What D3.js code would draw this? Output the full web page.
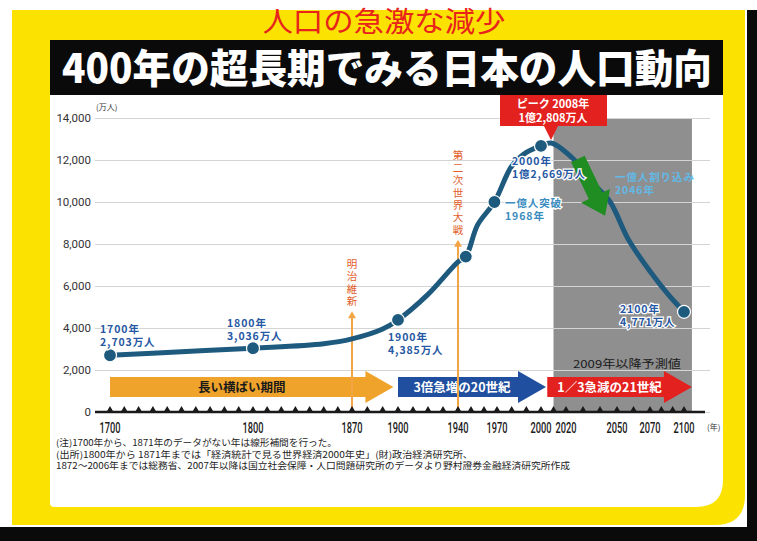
<!DOCTYPE html>
<html>
<head>
<meta charset="utf-8">
<script src="https://cdn.jsdelivr.net/npm/d3@7"></script>
<style>
  body { margin: 0; background: #fff; }
  svg { display: block; }
</style>
</head>
<body>
<div id="chart"></div>
<script>
// population of Japan (10,000 persons)
const years = [1700, 1750, 1800, 1850, 1870, 1890, 1900, 1920, 1940, 1946, 1955, 1968, 1980, 1990, 2000, 2008, 2025, 2037, 2046, 2057, 2070, 2086, 2100];
const population = [2703, 2870, 3036, 3250, 3480, 3950, 4385, 5600, 7150, 7400, 8900, 10000, 11700, 12360, 12669, 12808, 12000, 10800, 10000, 8200, 6700, 5600, 4771];
const markerYears = [1700, 1800, 1900, 1946, 1968, 2000, 2100];

const yTicks = [0, 2000, 4000, 6000, 8000, 10000, 12000, 14000];
const xTicks = [1700, 1800, 1870, 1900, 1940, 1970, 2000, 2020, 2050, 2070, 2100];

const periods = [
  {label: '長い横ばい期間', from: 1700, to: 1897, fill: '#f0a32a', text: '#1a1a1a'},
  {label: '3倍急増の20世紀', from: 1900, to: 2004, fill: '#1f4f9e', text: '#fff'},
  {label: '1／3急減の21世紀', from: 2005, to: 2107, fill: '#e3211f', text: '#fff'}
];

const events = [
  {label: '明治維新', year: 1870, top: 4800},
  {label: '第二次世界大戦', year: 1940, top: 8200}
];

const notes = [
  '(注)1700年から、1871年のデータがない年は線形補間を行った。',
  '(出所)1800年から 1871年までは「経済統計で見る世界経済2000年史」(財)政治経済研究所、',
  '1872～2006年までは総務省、2007年以降は国立社会保障・人口問題研究所のデータより野村證券金融経済研究所作成'
];

const W = 757, H = 541;
const numFont = 'Roboto, "Liberation Sans", sans-serif';
const svg = d3.select('#chart').append('svg')
  .attr('width', W)
  .attr('height', H)
  .attr('font-family', '"Noto Sans CJK JP", "Noto Sans", sans-serif');

// frame
svg.append('rect').attr('x', 747).attr('y', 10).attr('width', 10).attr('height', H - 10).attr('fill', '#0a0a0a');
svg.append('rect').attr('x', 0).attr('y', 527).attr('width', W).attr('height', 14).attr('fill', '#0a0a0a');
svg.append('path')
  .attr('d', 'M12,10 H745 V495 Q745,525 715,525 H12 Z')
  .attr('fill', '#fbe200');
svg.append('path')
  .attr('d', 'M50,40 H723 V480 Q723,507 696,507 H54 Q50,507 50,503 Z')
  .attr('fill', '#fff');

// titles
svg.append('text')
  .attr('x', 384).attr('y', 32)
  .attr('text-anchor', 'middle')
  .attr('font-size', 28)
  .attr('fill', '#e8231c')
  .attr('textLength', 243).attr('lengthAdjust', 'spacingAndGlyphs')
  .text('人口の急激な減少');
svg.append('rect').attr('x', 50).attr('y', 40).attr('width', 673).attr('height', 55).attr('fill', '#0a0a0a');
svg.append('text')
  .attr('x', 62).attr('y', 83)
  .attr('font-size', 40).attr('font-weight', 900)
  .attr('fill', '#fff')
  .attr('textLength', 650).attr('lengthAdjust', 'spacingAndGlyphs')
  .text('400年の超長期でみる日本の人口動向');

const x = d3.scaleLinear()
  .domain(xTicks)
  .range([110, 253, 352, 398, 458, 497, 541, 566, 617, 650, 684]);
const y = d3.scaleLinear().domain([0, 14000]).range([412, 118]);

// forecast area
svg.append('rect')
  .attr('x', x(2010)).attr('y', y(14000))
  .attr('width', x(2107) - x(2010)).attr('height', y(0) - y(14000))
  .attr('fill', '#8f8f8f');

// grid + y labels
const yAxis = svg.append('g')
  .attr('transform', 'translate(95,0)')
  .call(d3.axisLeft(y).tickValues(yTicks).tickFormat(d3.format(',')).tickSize(-615).tickPadding(4));
yAxis.attr('font-family', numFont).attr('font-size', 11.5);
yAxis.select('.domain').remove();
yAxis.selectAll('.tick line').attr('stroke', '#d4d4d4');
yAxis.selectAll('.tick text').attr('fill', '#333');
svg.append('text')
  .attr('x', 96).attr('y', 110)
  .attr('font-size', 8).attr('fill', '#333')
  .text('(万人)');

// period arrows
function hArrow(x0, x1, yc) {
  const b = 10, h = 16, hl = 28;
  return `M${x0},${yc - b} H${x1 - hl} V${yc - h} L${x1},${yc} L${x1 - hl},${yc + h} V${yc + b} H${x0} Z`;
}
const pg = svg.append('g');
pg.selectAll('path').data(periods).join('path')
  .attr('d', d => hArrow(x(d.from), x(d.to), 387))
  .attr('fill', d => d.fill);
pg.selectAll('text').data(periods).join('text')
  .attr('x', d => (x(d.from) + x(d.to) - 20) / 2)
  .attr('y', 392)
  .attr('text-anchor', 'middle')
  .attr('font-size', 12.5).attr('font-weight', 700)
  .attr('fill', d => d.text)
  .text(d => d.label);

// event arrows
const eg = svg.append('g');
events.forEach(ev => {
  const ex = x(ev.year), top = y(ev.top);
  eg.append('line')
    .attr('x1', ex).attr('x2', ex)
    .attr('y1', y(0)).attr('y2', top + 4)
    .attr('stroke', '#f3a445').attr('stroke-width', 2);
  eg.append('path')
    .attr('d', `M${ex - 4},${top + 7} L${ex},${top} L${ex + 4},${top + 7} Z`)
    .attr('fill', '#f3a445');
  Array.from(ev.label).forEach((c, i, arr) => {
    eg.append('text')
      .attr('x', ex).attr('y', top - 6 - (arr.length - 1 - i) * 12.4)
      .attr('text-anchor', 'middle')
      .attr('font-size', 10.5).attr('fill', '#e2602c')
      .text(c);
  });
});

// x axis
svg.append('line')
  .attr('x1', 95).attr('x2', 705)
  .attr('y1', y(0)).attr('y2', y(0))
  .attr('stroke', '#1a1a1a').attr('stroke-width', 2.5);
svg.append('g').selectAll('path').data(d3.range(1700, 2101, 10)).join('path')
  .attr('d', d => `M${x(d) - 3.5},${y(0)} L${x(d)},${y(0) - 6} L${x(d) + 3.5},${y(0)} Z`)
  .attr('fill', '#1a1a1a');
svg.append('g')
  .attr('font-family', numFont)
  .selectAll('text').data(xTicks).join('text')
  .attr('font-weight', 500)
  .attr('x', d => x(d) - 10.5).attr('y', 433)
  .attr('font-size', 14.5)
  .attr('fill', '#1a1a1a')
  .attr('textLength', 21).attr('lengthAdjust', 'spacingAndGlyphs')
  .text(d => d);
svg.append('text')
  .attr('x', 707).attr('y', 430)
  .attr('font-size', 8).attr('fill', '#333')
  .text('(年)');

// population line
const series = years.map((yr, i) => ({year: yr, value: population[i]}));
const line = d3.line()
  .x(d => x(d.year))
  .y(d => y(d.value))
  .curve(d3.curveCatmullRom);
svg.append('path')
  .datum(series)
  .attr('d', line)
  .attr('fill', 'none')
  .attr('stroke', '#1d5a7e')
  .attr('stroke-width', 5)
  .attr('stroke-linejoin', 'round');
svg.append('g').selectAll('circle')
  .data(series.filter(d => markerYears.includes(d.year)))
  .join('circle')
  .attr('cx', d => x(d.year)).attr('cy', d => y(d.value))
  .attr('r', 6.5)
  .attr('fill', '#1d5a7e')
  .attr('stroke', '#fff').attr('stroke-width', 1.2);

// green arrow
(function() {
  const p0 = [x(2027), y(12050)], p1 = [x(2043), y(9350)];
  const dx = p1[0] - p0[0], dy = p1[1] - p0[1], len = Math.hypot(dx, dy);
  const ux = dx / len, uy = dy / len, nx = -uy, ny = ux;
  const sw = 7.5, hw = 16, hl = 22;
  const bx = p1[0] - ux * hl, by = p1[1] - uy * hl;
  const pts = [
    [p0[0] + nx * sw, p0[1] + ny * sw],
    [bx + nx * sw, by + ny * sw],
    [bx + nx * hw, by + ny * hw],
    p1,
    [bx - nx * hw, by - ny * hw],
    [bx - nx * sw, by - ny * sw],
    [p0[0] - nx * sw, p0[1] - ny * sw]
  ];
  svg.append('path').attr('d', 'M' + pts.join('L') + 'Z').attr('fill', '#1f8d22');
})();

// point labels
const labels = [
  {x: 100, y: 333, lines: ['1700年', '2,703万人'], color: '#2658a3'},
  {x: 227, y: 327, lines: ['1800年', '3,036万人'], color: '#2658a3'},
  {x: 388, y: 341, lines: ['1900年', '4,385万人'], color: '#2658a3'},
  {x: 512, y: 165, lines: ['2000年', '1億2,669万人'], color: '#2658a3'},
  {x: 505, y: 207, lines: ['一億人突破', '1968年'], color: '#3a8cbf'},
  {x: 615, y: 181, lines: ['一億人割り込み', '2046年'], color: '#62b9e6', halo: false},
  {x: 620, y: 313, lines: ['2100年', '4,771万人'], color: '#2658a3'}
];
const lg = svg.append('g');
labels.forEach(l => {
  l.lines.forEach((t, i) => {
    lg.append('text')
      .attr('x', l.x).attr('y', l.y + i * 12.5)
      .attr('font-size', 10.5).attr('font-weight', 700)
      .attr('letter-spacing', 0.9)
      .attr('fill', l.color)
      .attr('stroke', l.halo === false ? 'none' : '#fff')
      .attr('stroke-width', 2.5)
      .attr('paint-order', 'stroke')
      .text(t);
  });
});
lg.append('text')
  .attr('x', 573).attr('y', 368)
  .attr('font-size', 11).attr('fill', '#1a1a1a')
  .attr('textLength', 108).attr('lengthAdjust', 'spacingAndGlyphs')
  .text('2009年以降予測値');

// peak callout
const px = x(2008), py = y(12808);
svg.append('path')
  .attr('d', `M500,95 H607 V126 H${px + 7} L${px},${py - 3} L${px - 7},126 H500 Z`)
  .attr('fill', '#e3211f');
svg.append('text')
  .attr('x', 553).attr('y', 108)
  .attr('text-anchor', 'middle')
  .attr('font-size', 11).attr('font-weight', 700).attr('fill', '#fff')
  .text('ピーク 2008年');
svg.append('text')
  .attr('x', 553).attr('y', 122)
  .attr('text-anchor', 'middle')
  .attr('font-size', 11).attr('font-weight', 700).attr('fill', '#fff')
  .text('1億2,808万人');

// notes
const widths = [281, 417, 514];
svg.append('g').selectAll('text').data(notes).join('text')
  .attr('x', 56).attr('y', (d, i) => 446 + i * 11.5)
  .attr('font-size', 9)
  .attr('fill', '#222')
  .attr('textLength', (d, i) => widths[i]).attr('lengthAdjust', 'spacingAndGlyphs')
  .text(d => d);
</script>
</body>
</html>
